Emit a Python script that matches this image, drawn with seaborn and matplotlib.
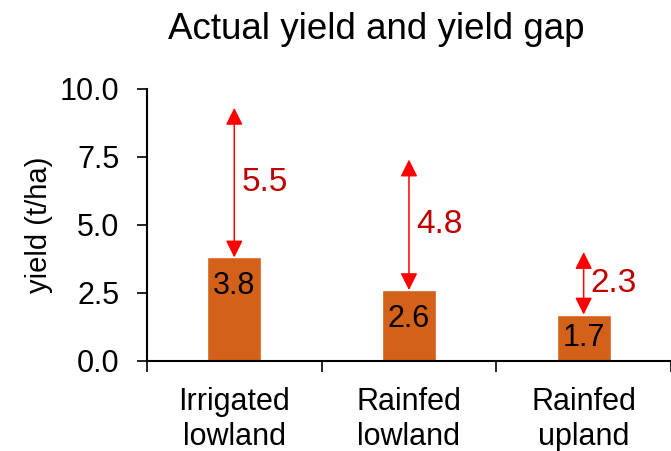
import matplotlib
matplotlib.use("Agg")
import matplotlib.pyplot as plt
import seaborn as sns
import pandas as pd

categories = ["Irrigated\nlowland", "Rainfed\nlowland", "Rainfed\nupland"]
actual_yield = [3.8, 2.6, 1.7]
yield_gap = [5.5, 4.8, 2.3]
y_ticks = [0.0, 2.5, 5.0, 7.5, 10.0]

sns.set_style("ticks")
plt.rcParams["font.family"] = ["Liberation Sans", "DejaVu Sans"]
plt.rcParams["text.color"] = "black"
plt.rcParams["axes.labelcolor"] = "black"

df = pd.DataFrame({"system": categories, "yield": actual_yield})

fig = plt.figure(figsize=(6.71, 4.51), dpi=100)
ax = fig.add_axes([0.219, 0.2, 0.781, 0.603])

sns.barplot(data=df, x="system", y="yield", color="#D4611A", width=0.31,
            saturation=1, ax=ax, zorder=2)

ax.set_xlim(-0.5, 2.5)
ax.set_ylim(0, 10)
ax.set_yticks(y_ticks)
ax.set_yticklabels([f"{v:.1f}" for v in y_ticks], fontsize=22)
ax.tick_params(axis="y", length=7, width=1.2, pad=13, colors="black")

# category boundaries as ticks, names centred between them
ax.set_xticks([-0.5, 0.5, 1.5, 2.5])
ax.set_xticklabels([])
ax.set_xticks(range(len(categories)), minor=True)
ax.set_xticklabels(categories, minor=True, fontsize=22, linespacing=1.22)
ax.tick_params(axis="x", which="major", length=8, width=1.2, direction="out",
               colors="black")
ax.tick_params(axis="x", which="minor", length=0, pad=19, labelcolor="black")

for side in ("top", "right"):
    ax.spines[side].set_visible(False)
for side in ("left", "bottom"):
    ax.spines[side].set_linewidth(1.5)
    ax.spines[side].set_color("black")

ax.set_xlabel("")
ax.set_ylabel("yield (t/ha)", fontsize=21, labelpad=5, color="black")
fig.text(0.560, 0.935, "Actual yield and yield gap", ha="center",
         va="center", fontsize=26.5, color="black")

for i, (base, gap) in enumerate(zip(actual_yield, yield_gap)):
    ax.text(i, base - min(1.05, base / 2), f"{base:.1f}", ha="center",
            va="center", fontsize=22, color="black", zorder=3)
    ax.annotate("", xy=(i, base + gap), xytext=(i, base),
                arrowprops=dict(arrowstyle="<|-|>", color="#FF0000", lw=1.1,
                                mutation_scale=26, shrinkA=0, shrinkB=0),
                zorder=3)
    ax.text(i + 0.04, base + gap / 2, f"{gap:.1f}", ha="left", va="center",
            fontsize=24, color="#C00000", zorder=3)

fig.savefig("out.png", dpi=100)
